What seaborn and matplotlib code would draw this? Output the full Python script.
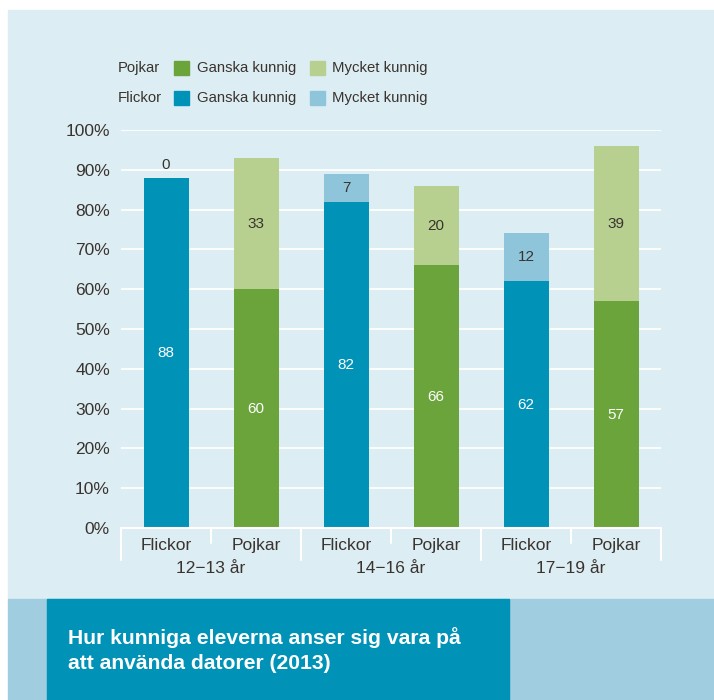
import matplotlib
matplotlib.use("Agg")
import matplotlib.pyplot as plt
import seaborn as sns
import pandas as pd
from matplotlib.patches import Rectangle

# ---- data ----
bar_ids = ["F1", "P1", "F2", "P2", "F3", "P3"]
bar_labels = ["Flickor", "Pojkar", "Flickor", "Pojkar", "Flickor", "Pojkar"]
age_groups = ["12\u221213 år", "14\u221216 år", "17\u221219 år"]
ganska = [88, 60, 82, 66, 62, 57]
mycket = [0, 33, 7, 20, 12, 39]
yticks = [0, 10, 20, 30, 40, 50, 60, 70, 80, 90, 100]
legend_rows = ["Pojkar", "Flickor"]
legend_items = ["Ganska kunnig", "Mycket kunnig"]
title = "Hur kunniga eleverna anser sig vara på\natt använda datorer (2013)"

# colours
F_DARK, F_LIGHT = "#0093b7", "#8fc5db"
P_DARK, P_LIGHT = "#6aa43a", "#b8d08f"
PANEL = "#ddedf4"
BAND = "#a1cde0"
TXT = "#3a342e"

sns.set_theme(style="white")
plt.rcParams["font.family"] = ["Liberation Sans", "DejaVu Sans"]

W, H = 714, 700
fig = plt.figure(figsize=(W / 100, H / 100), dpi=100, facecolor="white")

def fx(px):
    return px / W

def fy(py):
    return 1 - py / H

# background panels
fig.patches.append(Rectangle((fx(8), fy(599)), fx(W - 8), fy(10) - fy(599),
                             transform=fig.transFigure, color=PANEL, zorder=-3))
fig.patches.append(Rectangle((fx(8), 0), fx(W - 8), fy(599),
                             transform=fig.transFigure, color=BAND, zorder=-3))
fig.patches.append(Rectangle((fx(47), 0), fx(509 - 47), fy(599),
                             transform=fig.transFigure, color=F_DARK, zorder=-2))
fig.text(fx(68), fy(650), title, color="white", fontsize=15.2, fontweight="bold",
         ha="left", va="center", linespacing=1.35)

ax = fig.add_axes([fx(121), fy(528), fx(661 - 121), fy(130) - fy(528)])
ax.set_zorder(5)
ax.patch.set_alpha(0)

totals = [g + m for g, m in zip(ganska, mycket)]
df = pd.DataFrame({"id": bar_ids, "ganska": ganska, "total": totals})
light_pal = [F_LIGHT if l == "Flickor" else P_LIGHT for l in bar_labels]
dark_pal = [F_DARK if l == "Flickor" else P_DARK for l in bar_labels]

sns.barplot(data=df, x="id", y="total", hue="id", palette=light_pal, width=0.5,
            legend=False, ax=ax, saturation=1, zorder=3, linewidth=0)
sns.barplot(data=df, x="id", y="ganska", hue="id", palette=dark_pal, width=0.5,
            legend=False, ax=ax, saturation=1, zorder=4, linewidth=0)

ax.set_xlim(-0.5, 5.5)
ax.set_ylim(0, 100)
ax.set_yticks(yticks)
ax.set_yticklabels([f"{v}%" for v in yticks], fontsize=12.5, color=TXT)
ax.tick_params(axis="y", length=0, pad=8)
ax.set_xticks([])
ax.set_xlabel("")
ax.set_ylabel("")
for y in yticks[1:]:
    ax.axhline(y, color="white", lw=1.3, zorder=1)
for s in ["top", "right", "left"]:
    ax.spines[s].set_visible(False)
ax.spines["bottom"].set_color("white")
ax.spines["bottom"].set_linewidth(1.5)
ax.spines["bottom"].set_zorder(5)

# value labels
for i, (g, m) in enumerate(zip(ganska, mycket)):
    ax.text(i, g / 2, str(g), color="white", ha="center", va="center", fontsize=11, zorder=6)
    if m > 0:
        ax.text(i, g + m / 2, str(m), color=TXT, ha="center", va="center", fontsize=11, zorder=6)
    else:
        ax.text(i, g + 1.5, str(m), color=TXT, ha="center", va="bottom", fontsize=11, zorder=6)

# category labels and separators
tr = ax.get_xaxis_transform()
for i, lab in enumerate(bar_labels):
    ax.text(i, -0.043, lab, transform=tr, ha="center", va="center",
            fontsize=12.5, color=TXT, clip_on=False)
for k, grp in enumerate(age_groups):
    ax.text(2 * k + 0.5, -0.101, grp, transform=tr, ha="center", va="center",
            fontsize=12.5, color=TXT, clip_on=False)
span = 398.0
for j in range(7):
    xpos = j - 0.5
    depth = 32 if j % 2 == 0 else 15
    ax.plot([xpos, xpos], [0, -depth / span], transform=tr, color="white",
            lw=1.5, clip_on=False, zorder=5)

# legend
rows_y = [68, 98]
rect_x = [174, 310]
text_x = [197, 332]
row_cols = [[P_DARK, P_LIGHT], [F_DARK, F_LIGHT]]
for r, (name, yy) in enumerate(zip(legend_rows, rows_y)):
    fig.text(fx(118), fy(yy), name, fontsize=10.7, color=TXT, ha="left", va="center")
    for c in range(2):
        fig.patches.append(Rectangle((fx(rect_x[c]), fy(yy + 7)), fx(15), fy(0) - fy(14),
                                     transform=fig.transFigure, color=row_cols[r][c], zorder=2))
        fig.text(fx(text_x[c]), fy(yy), legend_items[c], fontsize=10.7, color=TXT,
                 ha="left", va="center")

fig.savefig("out.png", dpi=100, facecolor="white")
